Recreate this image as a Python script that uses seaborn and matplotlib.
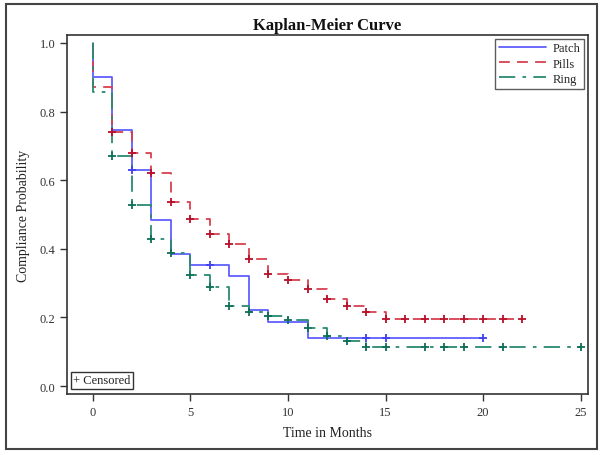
import numpy as np
import pandas as pd
import matplotlib
matplotlib.use("Agg")
import matplotlib.pyplot as plt
from matplotlib.lines import Line2D
from matplotlib.patches import Rectangle
import seaborn as sns

# ---- data ----
patch_t = [0, 0, 1, 2, 3, 4, 5, 7, 8, 9, 11, 20]
patch_s = [1.0, 0.90, 0.747, 0.63, 0.485, 0.385, 0.353, 0.322, 0.222, 0.186, 0.139, 0.139]
patch_cens_t = [2, 6, 14, 15, 20]
patch_cens_s = [0.63, 0.353, 0.139, 0.139, 0.139]

pills_t = [0, 0, 1, 2, 3, 4, 5, 6, 7, 8, 9, 10, 11, 12, 13, 14, 15, 22]
pills_s = [1.0, 0.871, 0.74, 0.678, 0.621, 0.535, 0.487, 0.443, 0.414, 0.370,
           0.327, 0.31, 0.283, 0.254, 0.232, 0.215, 0.195, 0.195]
pills_cens_t = [1, 2, 3, 4, 5, 6, 7, 8, 9, 10, 11, 12, 13, 14, 15, 16, 17, 18, 19, 20, 21, 22]
pills_cens_s = [0.74, 0.678, 0.621, 0.535, 0.487, 0.443, 0.414, 0.370, 0.327, 0.31,
                0.283, 0.254, 0.232, 0.215, 0.195, 0.195, 0.195, 0.195, 0.195, 0.195,
                0.195, 0.195]

ring_t = [0, 0, 1, 2, 3, 4, 5, 6, 7, 8, 9, 10, 11, 12, 13, 14, 25]
ring_s = [1.0, 0.858, 0.671, 0.528, 0.429, 0.388, 0.325, 0.288, 0.234, 0.215,
          0.203, 0.193, 0.168, 0.147, 0.132, 0.113, 0.113]
ring_cens_t = [1, 2, 3, 4, 5, 6, 7, 8, 9, 10, 11, 12, 13, 14, 15, 17, 18, 19, 21, 25]
ring_cens_s = [0.671, 0.528, 0.429, 0.388, 0.325, 0.288, 0.234, 0.215, 0.203, 0.193,
               0.168, 0.147, 0.132, 0.113, 0.113, 0.113, 0.113, 0.113, 0.113, 0.113]

groups = ["Patch", "Pills", "Ring"]
x_ticks = [0, 5, 10, 15, 20, 25]
y_ticks = [0.0, 0.2, 0.4, 0.6, 0.8, 1.0]

# ---- style ----
sns.set_theme(style="white")
plt.rcParams["font.family"] = ["Liberation Serif", "DejaVu Serif"]

colors = {"Patch": "#6060ff", "Pills": "#d8404f", "Ring": "#2a8a72"}
mcolors = {"Patch": "#4040f0", "Pills": "#b8102a", "Ring": "#0e6e58"}
lstyles = {"Patch": "-", "Pills": (0, (6, 4)), "Ring": (0, (9, 4, 2, 4))}

fig = plt.figure(figsize=(6.04, 4.56), dpi=100)
ax = fig.add_axes([67 / 604, 1 - 395 / 456, (588 - 67) / 604, (395 - 36) / 456])

data = {
    "Patch": (patch_t, patch_s, patch_cens_t, patch_cens_s),
    "Pills": (pills_t, pills_s, pills_cens_t, pills_cens_s),
    "Ring": (ring_t, ring_s, ring_cens_t, ring_cens_s),
}

for g in groups:
    t, s, ct, cs = data[g]
    df = pd.DataFrame({"t": t, "s": s})
    sns.lineplot(data=df, x="t", y="s", ax=ax, estimator=None, sort=False,
                 drawstyle="steps-post", color=colors[g], linestyle=lstyles[g],
                 linewidth=1.3)
    dc = pd.DataFrame({"t": ct, "s": cs})
    sns.scatterplot(data=dc, x="t", y="s", ax=ax, marker="+", s=32,
                    color=mcolors[g], linewidth=1.3, zorder=5)

ax.set_xlim(-1.33, 25.38)
ax.set_ylim(-0.023, 1.023)
ax.set_xticks(x_ticks)
ax.set_xticklabels([str(v) for v in x_ticks])
ax.set_yticks(y_ticks)
ax.set_yticklabels([f"{v:.1f}" for v in y_ticks])
ax.tick_params(axis="both", which="major", direction="out", length=5, width=1,
               labelsize=9, colors="#333333", labelcolor="#333333",
               bottom=True, left=True)
for sp in ax.spines.values():
    sp.set_color("#333333")
    sp.set_linewidth(1.2)

ax.set_xlabel("Time in Months", fontsize=10, color="#222222", labelpad=6)
ax.set_ylabel("Compliance Probability", fontsize=10, color="#222222", labelpad=7)
ax.set_title("Kaplan-Meier Curve", fontsize=12, fontweight="bold", color="#111111", pad=4)

handles = [Line2D([], [], color=colors[g], linestyle=lstyles[g], linewidth=1.3) for g in groups]
leg = ax.legend(handles, groups, loc="upper right", fontsize=9, frameon=True,
                fancybox=False, edgecolor="#333333", handlelength=3.8,
                borderpad=0.3, labelspacing=0.25, handletextpad=0.5,
                borderaxespad=0.3)
leg.get_frame().set_linewidth(1.0)

ax.text(0.012, 0.022, "+ Censored", transform=ax.transAxes, fontsize=9,
        ha="left", va="bottom", color="#222222",
        bbox=dict(boxstyle="square,pad=0.2", fc="white", ec="#333333", lw=1.0))

fig.patches.append(Rectangle((6 / 604, 1 - 450 / 456), (597 - 6) / 604, (450 - 5) / 456,
                             transform=fig.transFigure, fill=False,
                             edgecolor="#444444", linewidth=1.5, zorder=10))

fig.savefig("out.png", dpi=100)
